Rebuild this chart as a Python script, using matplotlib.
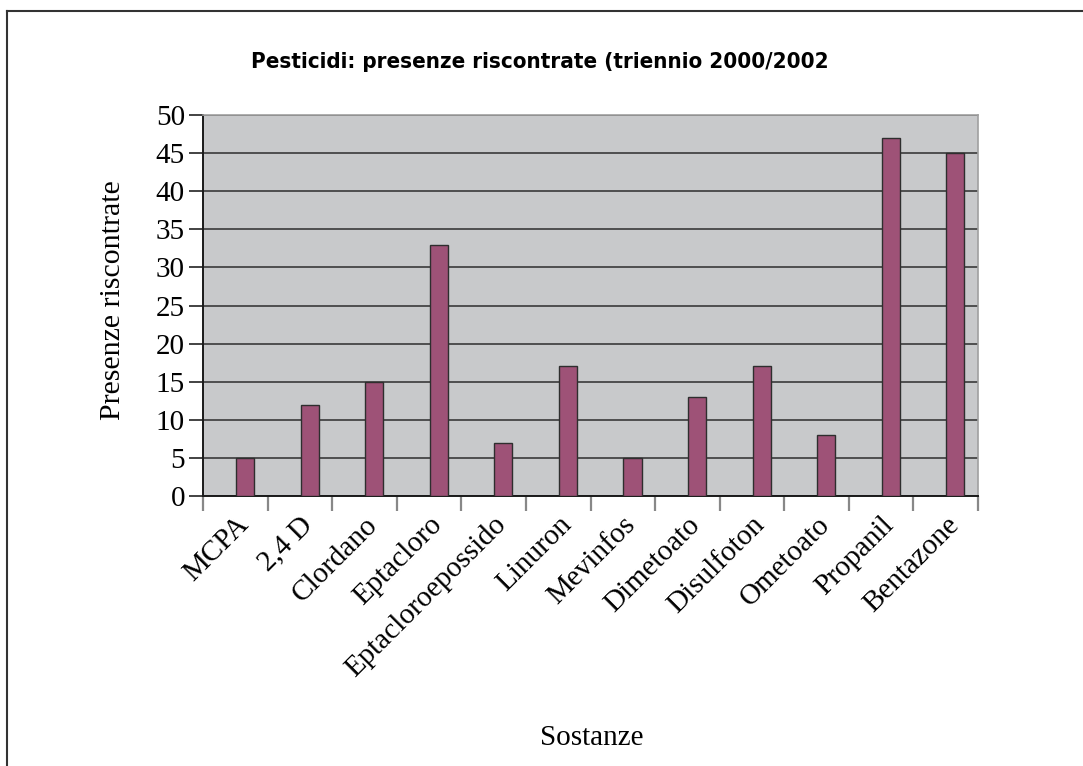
import matplotlib
matplotlib.use("Agg")
import matplotlib.pyplot as plt
from matplotlib.lines import Line2D
import numpy as np

sostanze = ["MCPA", "2,4 D", "Clordano", "Eptacloro", "Eptacloroepossido",
            "Linuron", "Mevinfos", "Dimetoato", "Disulfoton", "Ometoato",
            "Propanil", "Bentazone"]
presenze = [5, 12, 15, 33, 7, 17, 5, 13, 17, 8, 47, 45]
y_ticks = [0, 5, 10, 15, 20, 25, 30, 35, 40, 45, 50]

W, H = 1083, 766
fig = plt.figure(figsize=(W / 100, H / 100), dpi=100)
fig.patch.set_facecolor("white")

# plot area in pixels: left 203, right 978, top 115, bottom 496
left, right, top, bottom = 203, 978, 115, 496
ax = fig.add_axes([left / W, 1 - bottom / H, (right - left) / W, (bottom - top) / H])
ax.set_facecolor("#c8c9cb")

n = len(sostanze)
x = np.arange(n)
ax.bar(x + 0.65, presenze, width=0.28, color="#9e5277",
       edgecolor="#2e2e2e", linewidth=1.0, zorder=3)

ax.set_xlim(0, n)
ax.set_ylim(0, 50)
ax.set_yticks(y_ticks)
ax.yaxis.grid(True, color="#3a3a3a", linewidth=1.2, zorder=1)
ax.set_axisbelow(True)

serif = ["Liberation Serif", "DejaVu Serif"]
ax.set_yticklabels([str(v) for v in y_ticks], fontsize=21, family=serif)
ax.tick_params(axis="y", direction="out", length=10, width=1.2, color="#222222", pad=3)

# category boundaries carry the tick marks, labels sit near the bar centres
ax.set_xticks(np.arange(n + 1))
ax.set_xticklabels([])
ax.tick_params(axis="x", direction="out", length=11, width=1.6, color="#888888")
ax.set_xticks(x + 0.64, minor=True)
ax.set_xticklabels(sostanze, minor=True, rotation=45, ha="right",
                   rotation_mode="anchor", va="center", fontsize=21, family=serif)
ax.tick_params(axis="x", which="minor", length=0, pad=18)

for s in ("left", "bottom"):
    ax.spines[s].set_color("#1a1a1a")
    ax.spines[s].set_linewidth(1.4)
for s in ("top", "right"):
    ax.spines[s].set_color("#a0a0a0")
    ax.spines[s].set_linewidth(1.2)

ax.set_ylabel("Presenze riscontrate", fontsize=21.5, family=serif)
ax.yaxis.set_label_coords(-0.099, 0.515)

fig.text(592 / W, 1 - 738 / H, "Sostanze", fontsize=21, family=serif,
         ha="center", va="center")
fig.text(540 / W, 1 - 62 / H, "Pesticidi: presenze riscontrate (triennio 2000/2002",
         fontsize=16, fontweight="bold", fontstretch="condensed",
         family=["DejaVu Sans"], ha="center", va="center")

# outer frame (top and left edges)
fig.add_artist(Line2D([7 / W, 1], [1 - 11 / H, 1 - 11 / H], transform=fig.transFigure,
                      color="#333333", linewidth=1.5))
fig.add_artist(Line2D([7 / W, 7 / W], [1 - 11 / H, 0], transform=fig.transFigure,
                      color="#333333", linewidth=1.5))

fig.savefig("out.png", dpi=100, facecolor="white")
